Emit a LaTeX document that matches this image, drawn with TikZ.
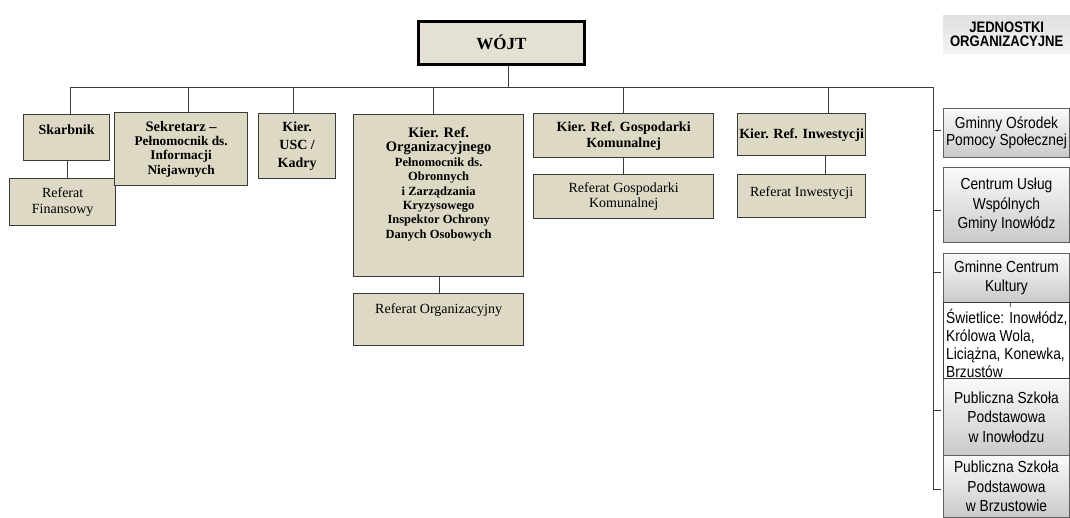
\documentclass[tikz,border=0pt]{standalone}
\usepackage{fontspec}
\setmainfont{Liberation Serif}
\newfontfamily\arialf[FakeStretch=0.86]{Liberation Sans}
\definecolor{beige}{HTML}{DDD9C4}
\definecolor{beigel}{HTML}{E4E1D4}
\definecolor{edge}{HTML}{3A3A3A}
\definecolor{redge}{HTML}{606060}
\tikzset{
  x=1pt, y=-1pt,
  conn/.style={draw=edge, line width=0.9pt},
  bbox/.style={draw=edge, line width=1.3pt, fill=beige, anchor=north west, inner sep=0pt, align=center, font=\fontsize{14}{16}\selectfont\bfseries},
  rbox/.style={draw=edge, line width=1.3pt, fill=beige, anchor=north west, inner sep=0pt, align=center, font=\fontsize{14}{15.5}\selectfont},
  gbox/.style={draw=redge, line width=0.9pt, top color=gray!4, bottom color=gray!42, anchor=north west, inner sep=0pt, align=center, font=\arialf\fontsize{16}{19.5}\selectfont},
  toptext/.style={anchor=north, align=center, inner sep=0pt},
}
\begin{document}
\begin{tikzpicture}
\useasboundingbox (0,0) rectangle (1070,517);
% top
\node[draw=black, line width=2.6pt, fill=beigel, anchor=north west, minimum width=166pt, minimum height=43pt, font=\fontsize{17}{18}\selectfont\bfseries] (wojt) at (417,20) {WÓJT};
% header
\node[top color=gray!24, bottom color=gray!10, anchor=north west, minimum width=127pt, minimum height=38pt, inner sep=0pt, align=center, font=\arialf\bfseries\fontsize{15.2}{14}\selectfont] (hdr) at (943,15) {JEDNOSTKI\\ORGANIZACYJNE};
% left boxes
\node[bbox, minimum width=86pt, minimum height=46pt] (skarb) at (23,114) {};
\node[toptext, font=\fontsize{14}{16}\selectfont\bfseries] (skarbt) at ([yshift=-11pt]skarb.north) {Skarbnik};
\node[rbox, minimum width=106pt, minimum height=47pt, font=\fontsize{14}{16}\selectfont] (reffin) at (9,178) {Referat\\Finansowy};
\node[bbox, minimum width=133pt, minimum height=73pt, font=\bfseries\fontsize{13.3}{14.2}\selectfont] (sekr) at (114,112) {{\fontsize{14.5}{14}\selectfont Sekretarz --}\\Pełnomocnik ds.\\Informacji\\Niejawnych};
\node[bbox, minimum width=77pt, minimum height=65pt, font=\fontsize{14}{18}\selectfont\bfseries] (usc) at (258,113) {Kier.\\USC /\\Kadry};
\node[bbox, minimum width=170pt, minimum height=162pt] (org) at (353,114) {};
\node[toptext, font=\bfseries\fontsize{12.5}{14.4}\selectfont] (orgt) at ([yshift=-13pt]org.north) {{\fontsize{14.5}{15}\selectfont Kier. Ref.}\\{\fontsize{14.5}{15}\selectfont Organizacyjnego}\\Pełnomocnik ds.\\Obronnych\\i Zarządzania\\Kryzysowego\\Inspektor Ochrony\\Danych Osobowych};
\node[rbox, minimum width=170pt, minimum height=52pt] (reforg) at (353,293) {};
\node[toptext, font=\fontsize{14}{16}\selectfont] (reforgt) at ([yshift=-10pt]reforg.north) {Referat Organizacyjny};
\node[bbox, minimum width=180pt, minimum height=44pt] (gosp) at (533,113) {Kier. Ref. Gospodarki\\Komunalnej};
\node[rbox, minimum width=180pt, minimum height=44pt] (refgosp) at (533,174) {Referat Gospodarki\\Komunalnej};
\node[bbox, minimum width=128pt, minimum height=42pt] (inw) at (737,113) {Kier. Ref. Inwestycji};
\node[rbox, minimum width=128pt, minimum height=43pt] (refinw) at (737,174) {};
\node[toptext, font=\fontsize{14}{16}\selectfont] (refinwt) at ([yshift=-12pt]refinw.north) {Referat Inwestycji};
% right boxes
\node[gbox, minimum width=126pt, minimum height=49pt, font=\arialf\fontsize{16}{17}\selectfont] (gops) at (943,108) {Gminny Ośrodek\\Pomocy Społecznej};
\node[gbox, minimum width=126pt, minimum height=75pt] (cuw) at (943,167) {Centrum Usług\\Wspólnych\\Gminy Inowłódz};
\node[gbox, minimum width=126pt, minimum height=49pt] (gck) at (943,253) {Gminne Centrum\\Kultury};
\node[gbox, minimum width=126pt, minimum height=77pt] (psp1) at (943,378) {Publiczna Szkoła\\Podstawowa\\w Inowłodzu};
\node[gbox, minimum width=126pt, minimum height=62pt] (psp2) at (943,455) {Publiczna Szkoła\\Podstawowa\\w Brzustowie};
\node[draw=edge, line width=0.9pt, fill=white, anchor=north west, minimum width=126pt, minimum height=76pt, inner sep=0pt] (swiet) at (943,302) {};
\node[anchor=north west, align=left, inner sep=0pt, font=\arialf\fontsize{16}{18.2}\selectfont] (swiett) at ([xshift=3pt, yshift=-6.5pt]swiet.north west) {Świetlice: Inowłódz,\\Królowa Wola,\\Liciążna, Konewka,\\Brzustów};
% connectors
\coordinate (busL) at (70,87);
\coordinate (busR) at (933,87);
\coordinate (wdrop) at (508,87);
\coordinate (dSekr) at (188,87);
\coordinate (dUsc) at (293,87);
\coordinate (dOrg) at (433,87);
\coordinate (dGosp) at (623,87);
\coordinate (dInw) at (828,87);
\coordinate (t1) at (933,130);
\coordinate (t2) at (933,210);
\coordinate (t3) at (933,272);
\coordinate (t4) at (933,410);
\coordinate (t5) at (933,489);
\coordinate (sw) at (1010,307);
\draw[conn] (wdrop |- wojt.south) -- (wdrop);
\draw[conn] (busL |- skarb.north) -- (busL) -- (busR) -- (t5);
\draw[conn] (dSekr) -- (dSekr |- sekr.north);
\draw[conn] (dUsc) -- (dUsc |- usc.north);
\draw[conn] (dOrg) -- (dOrg |- org.north);
\draw[conn] (dGosp) -- (dGosp |- gosp.north);
\draw[conn] (dInw) -- (dInw |- inw.north);
\draw[conn] ([xshift=1pt]skarb.south) -- ([xshift=1pt]skarb.south |- reffin.north);
\draw[conn] ([xshift=1pt]org.south) -- ([xshift=1pt]org.south |- reforg.north);
\draw[conn] (gosp.south) -- (refgosp.north);
\draw[conn] ([xshift=24pt]inw.south) -- ([xshift=24pt]refinw.north);
\draw[conn] (t1) -- ([xshift=-2pt]t1 -| gops.west);
\draw[conn] (t2) -- ([xshift=-2pt]t2 -| cuw.west);
\draw[conn] (t3) -- ([xshift=-2pt]t3 -| gck.west);
\draw[conn] (t4) -- ([xshift=-2pt]t4 -| psp1.west);
\draw[conn] (t5) -- ([xshift=-2pt]t5 -| psp2.west);
\draw[draw=redge, line width=0.7pt] (sw |- gck.south) -- (sw);
\end{tikzpicture}
\end{document}
